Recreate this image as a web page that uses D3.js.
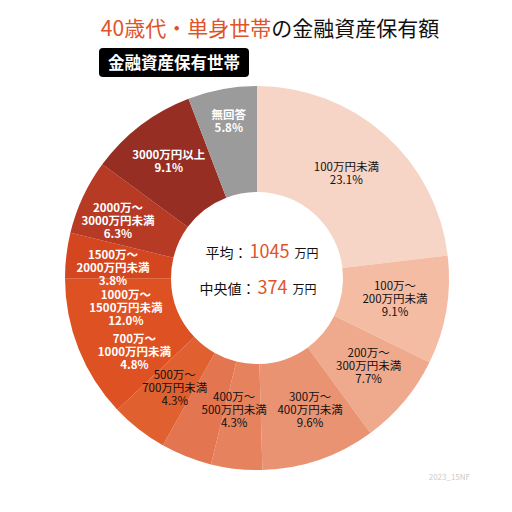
<!DOCTYPE html>
<html>
<head>
<meta charset="utf-8">
<script src="https://cdn.jsdelivr.net/npm/d3@7"></script>
<style>
  body { margin: 0; background: #fff; }
  svg { font-family: "Noto Sans CJK JP", "Noto Sans", sans-serif; }
</style>
</head>
<body>
<div id="chart"></div>
<script>
// data
const categories = [
  "100万円未満", "100万～\n200万円未満", "200万～\n300万円未満", "300万～\n400万円未満",
  "400万～\n500万円未満", "500万～\n700万円未満", "700万～\n1000万円未満", "1000万～\n1500万円未満",
  "1500万～\n2000万円未満", "2000万～\n3000万円未満", "3000万円以上", "無回答"
];
const shares = [23.1, 9.1, 7.7, 9.6, 4.3, 4.3, 4.8, 12.0, 3.8, 6.3, 9.1, 5.8];
const average = 1045;
const median = 374;

const colors = [
  "#f6d4c6", "#f5bca4", "#efa98d", "#e99373", "#e6835e", "#e37550",
  "#e0602f", "#dd5122", "#d3461f", "#b73a24", "#962e23", "#9b9b9b"
];
const whiteLabel = [false, false, false, false, false, false, true, true, true, true, true, true];
// label nudges (px) where the original moved labels off the centroid
const labelNudge = [
  [-3, -1], [1, -2], [5, -1], [8, 1], [-8, -6], [-31, -19],
  [-37, -36], [-2, -21], [-6, 6], [-13, 2], [-4, -6], [-3, -20]
];

const WIDTH = 512, HEIGHT = 512;
const CX = 257, CY = 278;
const R_OUT = 192, R_IN = 86;

const svg = d3.select("#chart").append("svg")
  .attr("width", WIDTH)
  .attr("height", HEIGHT);

// title
const title = svg.append("text")
  .attr("x", 270)
  .attr("y", 36)
  .attr("text-anchor", "middle")
  .attr("font-size", 21)
title.append("tspan").attr("fill", "#e0532b").text("40歳代・単身世帯")
title.append("tspan").attr("fill", "#111").text("の金融資産保有額")

svg.append("rect")
  .attr("x", 99).attr("y", 48)
  .attr("width", 150).attr("height", 29)
  .attr("rx", 4)
  .attr("fill", "#000")
svg.append("text")
  .attr("x", 174).attr("y", 69)
  .attr("text-anchor", "middle")
  .attr("font-size", 16.5)
  .attr("font-weight", "bold")
  .attr("fill", "#fff")
  .text("金融資産保有世帯")

// donut
const pie = d3.pie().sort(null).value(d => d)
const arcs = pie(shares)
const arc = d3.arc().innerRadius(R_IN).outerRadius(R_OUT)

const g = svg.append("g").attr("transform", `translate(${CX}, ${CY})`)

g.selectAll("path")
  .data(arcs)
  .enter().append("path")
  .attr("d", arc)
  .attr("fill", (d, i) => colors[i])

const labels = g.selectAll("text.lbl")
  .data(arcs)
  .enter().append("text")
  .attr("class", "lbl")
  .attr("text-anchor", "middle")
  .attr("font-size", 11.5)
  .attr("font-weight", (d, i) => whiteLabel[i] ? "bold" : "normal")
  .attr("fill", (d, i) => whiteLabel[i] ? "#fff" : "#111")
  .attr("transform", (d, i) => {
    const [x, y] = arc.centroid(d)
    return `translate(${x + labelNudge[i][0]}, ${y + labelNudge[i][1]})`
  })

labels.each(function(d, i) {
  const lines = categories[i].split("\n").concat([shares[i].toFixed(1) + "%"])
  const t = d3.select(this)
  const lh = 13
  const y0 = -(lines.length - 1) * lh / 2 + 4
  lines.forEach((s, k) => {
    t.append("tspan").attr("x", 0).attr("y", y0 + k * lh).text(s)
  })
})

// centre text
const c1 = g.append("text").attr("x", 5).attr("y", -20).attr("text-anchor", "middle")
c1.append("tspan").attr("font-size", 14).attr("fill", "#111").text("平均：")
c1.append("tspan").attr("font-size", 18).attr("fill", "#e0532b").attr("dx", 2).text(average)
c1.append("tspan").attr("font-size", 12).attr("fill", "#111").attr("dx", 5).text("万円")

const c2 = g.append("text").attr("x", 1).attr("y", 16).attr("text-anchor", "middle")
c2.append("tspan").attr("font-size", 14).attr("fill", "#111").text("中央値：")
c2.append("tspan").attr("font-size", 18).attr("fill", "#e0532b").attr("dx", 2).text(median)
c2.append("tspan").attr("font-size", 12).attr("fill", "#111").attr("dx", 5).text("万円")

svg.append("text")
  .attr("x", 470).attr("y", 480)
  .attr("text-anchor", "end")
  .attr("font-size", 8)
  .attr("fill", "#ccc")
  .text("2023_15NF")
</script>
</body>
</html>
